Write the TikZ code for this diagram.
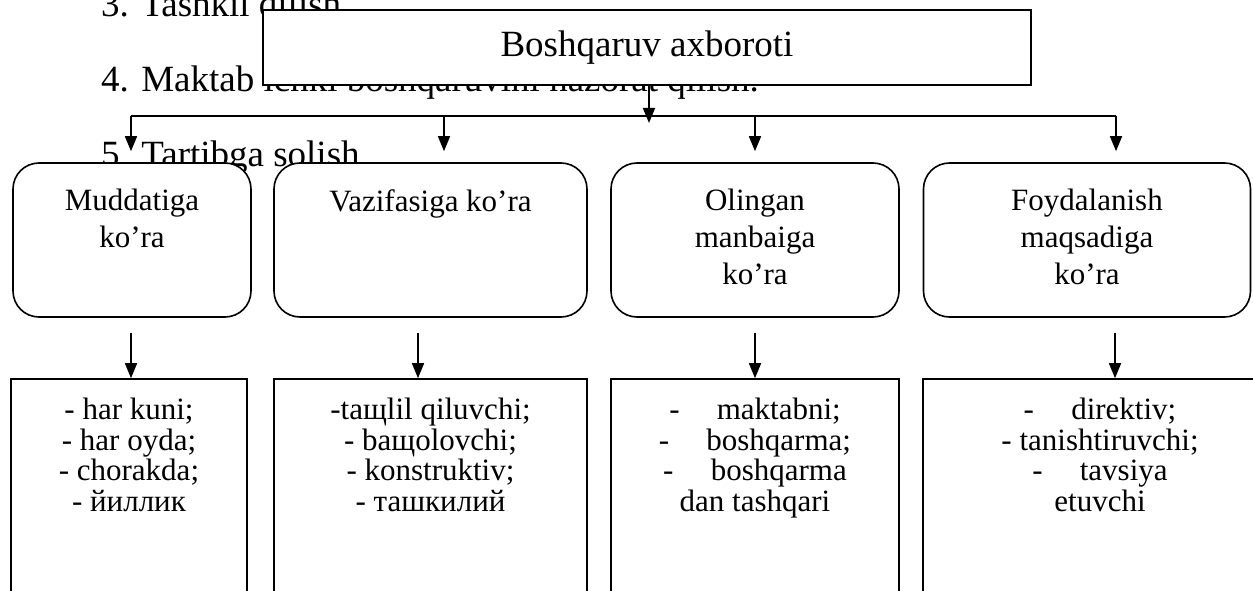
\documentclass[tikz,border=0pt]{standalone}
\usepackage{fontspec}
\setmainfont{Liberation Serif}
\usetikzlibrary{arrows.meta}

\begin{document}
\begin{tikzpicture}[x=1pt,y=-1pt,
    topbox/.style={draw, fill=white, line width=1.6pt, minimum width=768pt, minimum height=75pt, font=\fontsize{37}{44}\selectfont},
    kindbox/.style={draw, fill=white, line width=1.6pt, rounded corners=26pt, minimum height=154pt},
    listbox/.style={draw, fill=white, line width=1.6pt, minimum height=230pt},
    boxtext/.style={anchor=north, inner sep=0pt, align=center, font=\fontsize{31}{37}\selectfont},
    listtext/.style={anchor=north, inner sep=0pt, align=center, font=\fontsize{31}{30.5}\selectfont},
    pagetext/.style={anchor=base west, inner sep=0pt, font=\fontsize{37}{44}\selectfont},
    arr/.style={line width=1.6pt, -{Triangle[length=15pt,width=12pt]}}]

    \useasboundingbox (0,0) rectangle (1253,591);
    \clip (0,0) rectangle (1253,591);

    % Page text behind the scheme
    \node[pagetext] (p3) at (101,17) {3. Tashkil qilish};
    \node[pagetext] (p4) at (101,92) {4. Maktab ichki boshqaruvini nazorat qilish.};
    \node[pagetext] (p5) at (101,167) {5. Tartibga solish};

    % Top box
    \node[topbox] (info) at (647,47.5) {Boshqaruv axboroti};

    % Kinds
    \foreach \n/\x/\w in {1/132/238, 2/430.5/313, 3/755/288, 4/1087/327} {
      \node[kindbox, minimum width=\w pt] (m\n) at (\x,240) {};
    }
    \node[boxtext] (m1t) at ([yshift=-27pt]m1.north) {Muddatiga\\ko’ra};
    \node[boxtext] (m2t) at ([yshift=-27pt]m2.north) {Vazifasiga ko’ra};
    \node[boxtext] (m3t) at ([yshift=-27pt]m3.north) {Olingan\\manbaiga\\ko’ra};
    \node[boxtext] (m4t) at ([yshift=-27pt]m4.north) {Foydalanish\\maqsadiga\\ko’ra};

    % Lists
    \foreach \n/\x/\w in {1/129/236, 2/430.5/313, 3/755/288, 4/1100/354} {
      \node[listbox, minimum width=\w pt] (t\n) at (\x,494) {};
    }
    \node[listtext] (t1t) at ([yshift=-20pt]t1.north) {- har kuni;\\- har oyda;\\- chorakda;\\- йиллик};
    \node[listtext] (t2t) at ([yshift=-20pt]t2.north) {-taщlil qiluvchi;\\- baщolovchi;\\- konstruktiv;\\- ташкилий};
    \node[listtext] (t3t) at ([yshift=-20pt]t3.north) {-\hspace{1.2em}maktabni;\\-\hspace{1.2em}boshqarma;\\-\hspace{1.2em}boshqarma\\dan tashqari};
    \node[listtext] (t4t) at ([yshift=-20pt]t4.north) {-\hspace{1.2em}direktiv;\\- tanishtiruvchi;\\-\hspace{1.2em}tavsiya\\etuvchi};

    % Arrows
    \coordinate (hub) at (649,123);
    \draw[arr] (info.south -| hub) -- (hub);
    \coordinate (busL) at (131,116);
    \coordinate (busR) at (1116,116);
    \draw[line width=1.6pt] (busL) -- (busR);
    \foreach \n/\x in {1/131, 2/444, 3/755, 4/1116} {
      \coordinate (b\n) at (\x,116);
      \draw[arr, shorten >=11pt] (b\n) -- (b\n |- m\n.north);
    }
    \foreach \n/\x in {1/131, 2/418, 3/755, 4/1115} {
      \coordinate (d\n) at (\x,0);
      \draw[arr, shorten <=15pt] (d\n |- m\n.south) -- (d\n |- t\n.north);
    }
\end{tikzpicture}
\end{document}
